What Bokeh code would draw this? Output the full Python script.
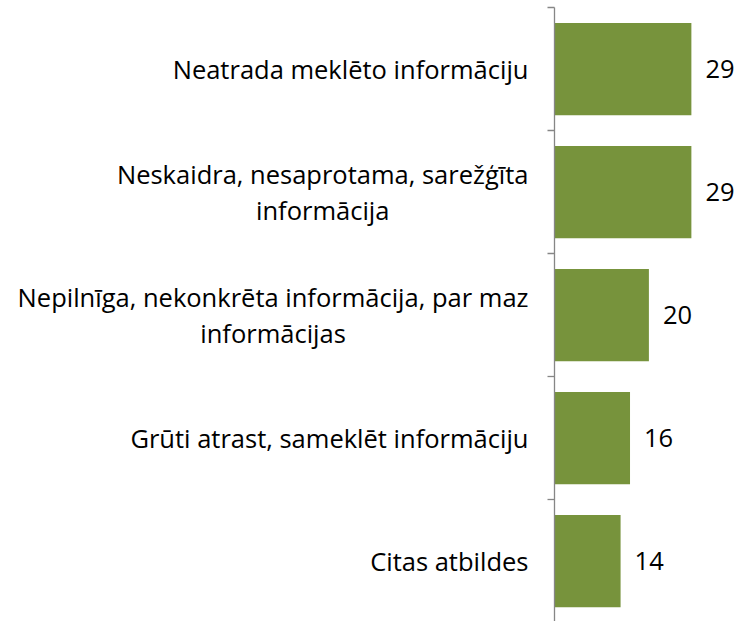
import numpy as np
from bokeh.plotting import figure
from bokeh.models import Range1d, ColumnDataSource
from bokeh.core.properties import value
from bokeh.embed import file_html
from bokeh.resources import INLINE

# ---- data ----
categories = [
    "Neatrada meklēto informāciju",
    "Neskaidra, nesaprotama, sarežģīta\ninformācija",
    "Nepilnīga, nekonkrēta informācija, par maz\ninformācijas",
    "Grūti atrast, sameklēt informāciju",
    "Citas atbildes",
]
values = [29, 29, 20, 16, 14]

# ---- layout constants ----
W, H = 741, 621
AXIS_PX = 554          # screen x of the value axis
PX_PER_UNIT = 4.72
CAT_PX = 123
TOP_PX = 7.0
FONT = "Open Sans"
FS = 25.5
BAR_COLOR = "#77933C"
AXIS_COLOR = "#868686"

n = len(categories)
centers = [i + 0.5 for i in range(n)]
bounds = list(range(n + 1))

x_start = -AXIS_PX / PX_PER_UNIT
x_end = (W - AXIS_PX) / PX_PER_UNIT
y_top = -TOP_PX / CAT_PX
y_bottom = y_top + H / CAT_PX

p = figure(width=W, height=H, output_backend="svg", toolbar_location=None,
           x_range=Range1d(x_start, x_end), y_range=Range1d(y_bottom, y_top),
           min_border=0, outline_line_color=None)
p.axis.visible = False
p.grid.visible = False
p.background_fill_color = "white"
p.border_fill_color = "white"

src = ColumnDataSource(dict(y=centers, v=values, cat=categories,
                            vs=[str(v) for v in values]))

p.hbar(y="y", right="v", left=0, height=0.75, source=src,
       fill_color=BAR_COLOR, line_color=None)

# value axis line and ticks at category boundaries
p.segment(x0=[0], y0=[bounds[0]], x1=[0], y1=[bounds[-1]],
          line_color=AXIS_COLOR, line_width=1.3)
p.ray(x=[0] * len(bounds), y=bounds, length=7, angle=np.pi, length_units="screen",
      line_color=AXIS_COLOR, line_width=1.3)

# category labels
p.text(x=0, y="y", text="cat", source=src, x_offset=-26,
       anchor=value("center_right"), text_align="center", text_baseline="middle",
       text_font=value(FONT), text_font_size=f"{FS}px", text_color="black",
       text_line_height=1.03)

# value labels
p.text(x="v", y="y", text="vs", source=src, x_offset=14,
       text_align="left", text_baseline="middle",
       text_font=value(FONT), text_font_size=f"{FS}px", text_color="black")

open("out.html", "w").write(file_html(p, INLINE))
